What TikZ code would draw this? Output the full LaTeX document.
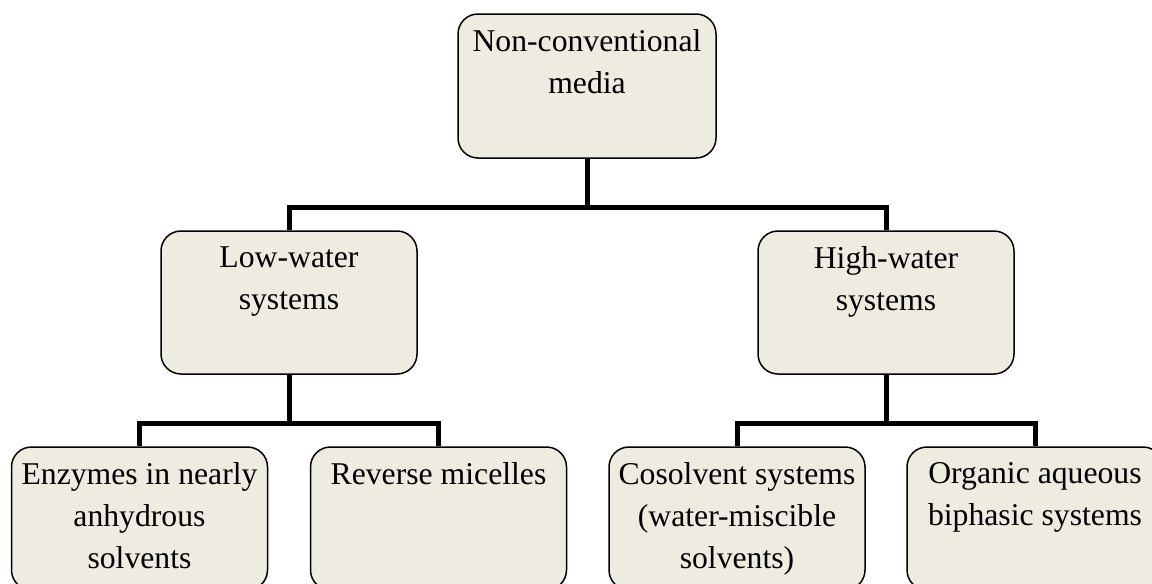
\documentclass[tikz,border=0pt]{standalone}
\usepackage{fontspec}
\setmainfont{Liberation Serif}
\usepackage{tikz}
\usetikzlibrary{positioning}
\definecolor{boxTan}{HTML}{EEECE1}

\tikzset{
  mediabox/.style={draw, line width=1.5pt, fill=boxTan, rounded corners=20pt,
    minimum width=256pt, minimum height=143pt, inner sep=0pt},
  boxlabel/.style={align=center, inner sep=0pt, font=\fontsize{31.7}{42}\selectfont},
  branch/.style={line width=5pt}
}

\begin{document}
\begin{tikzpicture}[x=1pt, y=-1pt]
  \useasboundingbox (0, 0) rectangle (1152, 584);
  \node[mediabox, minimum width=258pt, minimum height=144pt] (top) at (587, 86) {};
  \node[mediabox] (low)  at (289, 302.5) {};
  \node[mediabox] (high) at (886, 302.5) {};
  \node[mediabox] (enz) at (139.5, 518.5) {};
  \node[mediabox] (rev) at (438.5, 518.5) {};
  \node[mediabox] (cos) at (737, 518.5) {};
  \node[mediabox] (org) at (1035, 518.5) {};
  \node[boxlabel, below=16pt of top.north]  (topText)  {Non-conventional\\media};
  \node[boxlabel, below=16pt of low.north]  (lowText)  {Low-water\\systems};
  \node[boxlabel, below=16pt of high.north] (highText) {High-water\\systems};
  \node[boxlabel, below=16pt of enz.north]  (enzText)  {Enzymes in nearly\\anhydrous\\solvents};
  \node[boxlabel, below=16pt of rev.north]  (revText)  {Reverse micelles};
  \node[boxlabel, below=16pt of cos.north]  (cosText)  {Cosolvent systems\\(water-miscible\\solvents)};
  \node[boxlabel, below=16pt of org.north]  (orgText)  {Organic aqueous\\biphasic systems};
  \draw[branch] (top.south) -- ++(0, 49) -| (low.north);
  \draw[branch] (top.south) -- ++(0, 49) -| (high.north);
  \draw[branch] (low.south) -- ++(0, 49) -| (enz.north);
  \draw[branch] (low.south) -- ++(0, 49) -| (rev.north);
  \draw[branch] (high.south) -- ++(0, 49) -| (cos.north);
  \draw[branch] (high.south) -- ++(0, 49) -| (org.north);
\end{tikzpicture}
\end{document}
